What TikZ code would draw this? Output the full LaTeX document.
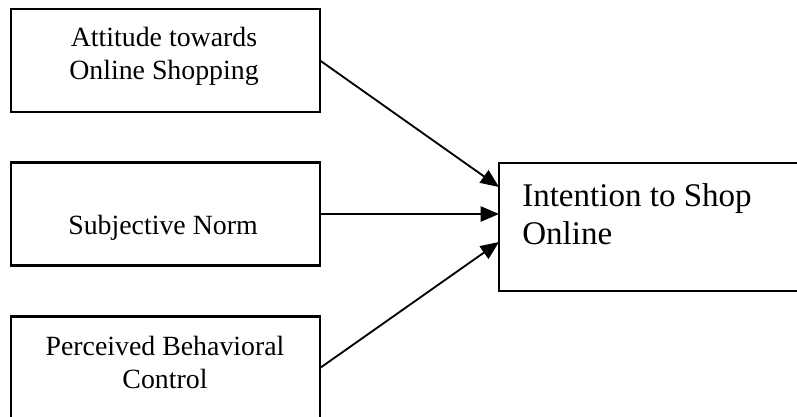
\documentclass[tikz,border=0pt]{standalone}
\usepackage{fontspec}
\setmainfont{Liberation Serif}
\usetikzlibrary{arrows.meta}
\tikzset{
  box/.style={draw, line width=1.5pt, minimum width=7.725cm, minimum height=2.575cm, inner sep=0pt, outer sep=0pt},
  lbl/.style={font=\fontsize{19.8}{23.5}\selectfont, align=center, anchor=base, inner sep=0pt},
  >={Triangle[length=4.6mm,width=3.8mm]}
}
\begin{document}
\begin{tikzpicture}
    \clip (0,0) rectangle (19.925,10.425);
    \node[box] (att) at (4.1375,8.9125) {};
    \node[box] (norm) at (4.1375,5.075) {};
    \node[box] (pbc) at (4.1375,1.225) {};
    \node[box, minimum width=8.525cm, minimum height=3.2cm] (int) at (16.7375,4.75) {};
    \node[lbl] (attlbl) at (4.1,8.425) {Attitude towards\\Online Shopping};
    \node[lbl] (normlbl) at (4.075,4.55) {Subjective Norm};
    \node[lbl] (pbclbl) at (4.125,0.7) {Perceived Behavioral\\Control};
    \node[lbl, font=\fontsize{23.5}{27.7}\selectfont, align=left, anchor=base west] (intlbl) at (13.05,4.3) {Intention to Shop\\Online};
    \draw[->, line width=1.3pt] (att.east) -- ([yshift=1cm]int.west);
    \draw[->, line width=1.3pt] (norm.east) -- ([yshift=0.325cm]int.west);
    \draw[->, line width=1.3pt] (pbc.east) -- ([yshift=-0.375cm]int.west);
\end{tikzpicture}
\end{document}
